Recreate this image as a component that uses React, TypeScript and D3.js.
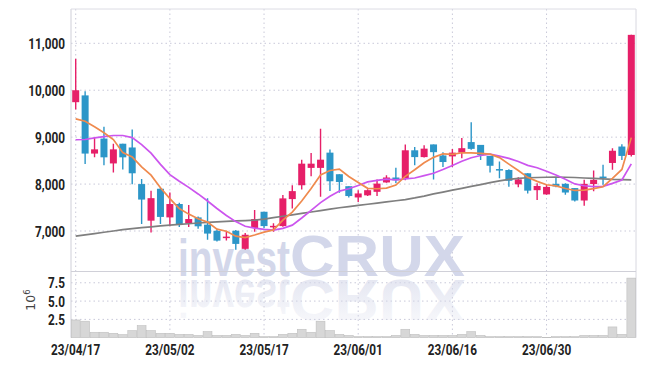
import React from 'react';
import * as d3 from 'd3';

const dates = [
  '2023-04-17','2023-04-18','2023-04-19','2023-04-20','2023-04-21','2023-04-24','2023-04-25','2023-04-26','2023-04-27','2023-04-28',
  '2023-05-02','2023-05-03','2023-05-04','2023-05-08','2023-05-09','2023-05-10','2023-05-11','2023-05-12','2023-05-15','2023-05-16',
  '2023-05-17','2023-05-18','2023-05-19','2023-05-22','2023-05-23','2023-05-24','2023-05-25','2023-05-26','2023-05-30','2023-05-31',
  '2023-06-01','2023-06-02','2023-06-05','2023-06-07','2023-06-08','2023-06-09','2023-06-12','2023-06-13','2023-06-14','2023-06-15',
  '2023-06-16','2023-06-19','2023-06-20','2023-06-21','2023-06-22','2023-06-23','2023-06-26','2023-06-27','2023-06-28','2023-06-29',
  '2023-06-30','2023-07-03','2023-07-04','2023-07-05','2023-07-06','2023-07-07','2023-07-10','2023-07-11','2023-07-12','2023-07-13',
];
const opens = [
  9745, 9890, 8650, 8970, 8440, 8860, 8780, 8000, 7220, 7900,
  7290, 7575, 7160, 7290, 7135, 7005, 6850, 7005, 6620, 7065,
  7410, 7095, 7105, 7680, 7975, 8345, 8345, 8670, 8210, 7955,
  7715, 7760, 7835, 8035, 8140, 8120, 8720, 8575, 8845, 8610,
  8590, 8670, 8895, 8835, 8600, 8320, 8300, 7995, 8230, 7870,
  7780, 8005, 8005, 7915, 7650, 8000, 8160, 8450, 8800, 8620,
];
const highs = [
  10670, 9980, 8990, 9220, 8860, 8860, 9165, 8110, 7860, 7920,
  7820, 7600, 7555, 7310, 7700, 7040, 7005, 7020, 6955, 7445,
  7410, 7165, 7765, 7975, 8520, 8660, 9180, 8735, 8210, 7955,
  7870, 7890, 8095, 8190, 8350, 8845, 8790, 8825, 8845, 8680,
  8750, 8980, 9320, 8835, 8600, 8480, 8315, 8145, 8230, 8015,
  7985, 8130, 8020, 7915, 8090, 8290, 8410, 8765, 8850, 11180,
];
const lows = [
  9590, 8430, 8570, 8400, 8245, 8310, 7995, 7150, 6970, 7150,
  7100, 7085, 7085, 7050, 6815, 6775, 6795, 6600, 6600, 6985,
  7060, 6985, 7090, 7480, 7885, 8165, 7730, 7850, 7815, 7715,
  7620, 7745, 7745, 8030, 8025, 8080, 8400, 8565, 8095, 8365,
  8365, 8550, 8730, 8515, 8245, 8125, 7945, 7930, 7800, 7660,
  7770, 7935, 7770, 7630, 7540, 7845, 7985, 8305, 8515, 8590,
];
const closes = [
  10000, 8650, 8740, 8570, 8740, 8570, 8230, 7670, 7700, 7300,
  7575, 7135, 7255, 7100, 6945, 6795, 6880, 6725, 6920, 7255,
  7105, 7110, 7695, 7850, 8435, 8435, 8520, 8060, 8045, 7745,
  7800, 7870, 8010, 8140, 8080, 8720, 8575, 8755, 8680, 8470,
  8670, 8765, 8750, 8620, 8390, 8295, 8070, 8100, 7860, 7960,
  7940, 7950, 7820, 7650, 8005, 8090, 8150, 8710, 8600, 11180,
];
const ma5 = [
  9390, 9340, 9220, 9095, 8950, 8670, 8580, 8365, 8190, 7920,
  7690, 7480, 7360, 7260, 7190, 7040, 6995, 6890, 6860, 6915,
  6977, 7023, 7230, 7403, 7639, 7905, 8195, 8290, 8320, 8161,
  8034, 7910, 7900, 7913, 7980, 8164, 8305, 8454, 8570, 8645,
  8635, 8668, 8667, 8655, 8639, 8564, 8425, 8290, 8143, 8057,
  7986, 7962, 7906, 7864, 7873, 7903, 7943, 8121, 8311, 8990,
];
const ma10 = [
  8945, 8950, 8985, 9010, 9035, 9035, 8990, 8840, 8660, 8420,
  8200, 8060, 7930, 7790, 7640, 7480, 7330, 7200, 7100, 7060,
  7035, 7020, 7055, 7125, 7277, 7441, 7605, 7739, 7851, 7900,
  7970, 8046, 8077, 8106, 8090, 8110, 8130, 8180, 8230, 8310,
  8397, 8487, 8561, 8609, 8640, 8597, 8547, 8481, 8399, 8348,
  8275, 8194, 8101, 8004, 7965, 7945, 7953, 8014, 8088, 8430,
];
const ma60 = [
  6890, 6918, 6946, 6974, 7000, 7030, 7050, 7070, 7090, 7110,
  7125, 7140, 7155, 7170, 7185, 7195, 7205, 7215, 7222, 7230,
  7255, 7285, 7315, 7345, 7375, 7405, 7435, 7465, 7495, 7520,
  7545, 7570, 7595, 7620, 7645, 7670, 7705, 7745, 7790, 7830,
  7870, 7910, 7950, 7990, 8030, 8070, 8100, 8120, 8135, 8140,
  8145, 8150, 8145, 8140, 8130, 8120, 8110, 8100, 8095, 8090,
];
const volumes = [
  2420000, 2250000, 740000, 740000, 600000, 410000, 960000, 1640000, 960000, 600000,
  600000, 450000, 450000, 300000, 820000, 300000, 300000, 450000, 300000, 600000,
  140000, 140000, 450000, 600000, 1150000, 740000, 2250000, 960000, 450000, 300000,
  140000, 140000, 140000, 140000, 300000, 1150000, 450000, 300000, 300000, 300000,
  300000, 450000, 820000, 300000, 140000, 140000, 140000, 140000, 140000, 140000,
  50000, 140000, 140000, 140000, 300000, 300000, 300000, 1470000, 450000, 8140000,
];
const priceTicks = [7000, 8000, 9000, 10000, 11000];
const volumeTicks = [2.5e6, 5e6, 7.5e6];
const dateTickIdx = [0, 10, 20, 30, 40, 50];

const W = 645, H = 366;
const L = 71, R = 636, T = 9, SEP = 271.5, VB = 337.7;
const UP = '#e61f68';
const DOWN = '#2c96c8';
const GRID = '#c9c9d9';
const FONT = "Roboto, 'DejaVu Sans', sans-serif";
const SX = 0.76;

export default function App() {
  const n = dates.length;
  const x = d3.scaleBand<number>().domain(d3.range(n)).range([L, R]).padding(0);
  const cx = (i: number) => (x(i) as number) + x.bandwidth() / 2;
  const y = d3.scaleLinear().domain([6137, 11731]).range([SEP, T]);
  const yv = d3.scaleLinear().domain([0, 9.04e6]).range([VB, SEP]);
  const fmtDate = d3.timeFormat('%y/%m/%d');
  const parse = d3.timeParse('%Y-%m-%d');
  const fmtPrice = d3.format(',');
  const fmtVol = (v: number) => d3.format('.1f')(v / 1e6);
  const line = (arr: number[]) =>
    d3.line<number>().x((_, i) => cx(i)).y((d) => y(d))(arr) as string;
  const bw = 7;
  const vbw = x.bandwidth() - 0.6;

  const label = (key: string, tx: number, ty: number, anchor: string, txt: string) => (
    <text key={key} transform={`translate(${tx},${ty}) scale(${SX},1)`} textAnchor={anchor}
      fontFamily={FONT} fontSize={15.5} fontWeight={700} fill="#222">{txt}</text>
  );

  return (
    <svg width={W} height={H} style={{ position: 'absolute', left: 0, top: 0, background: '#fff' }}>
      <defs>
        <linearGradient id="refl" x1="0" y1="0" x2="0" y2="1">
          <stop offset="0" stopColor="#d6d9ea" stopOpacity="0.1" />
          <stop offset="1" stopColor="#d6d9ea" stopOpacity="0.75" />
        </linearGradient>
        <clipPath id="priceClip"><rect x={L} y={T} width={R - L} height={SEP - T} /></clipPath>
      </defs>

      {/* grid */}
      {priceTicks.map((t) => (
        <line key={'hp' + t} x1={L} x2={R} y1={y(t)} y2={y(t)} stroke={GRID} strokeWidth={1} strokeDasharray="1.5,3" />
      ))}
      {volumeTicks.map((t) => (
        <line key={'hv' + t} x1={L} x2={R} y1={yv(t)} y2={yv(t)} stroke={GRID} strokeWidth={1} strokeDasharray="1.5,3" />
      ))}
      {dateTickIdx.map((i) => (
        <line key={'vg' + i} x1={cx(i)} x2={cx(i)} y1={T} y2={VB} stroke={GRID} strokeWidth={1} strokeDasharray="1.5,3" />
      ))}

      {/* watermark */}
      <g fontFamily="'Liberation Sans', 'DejaVu Sans', sans-serif" fontWeight="bold">
        <text x={178} y={276} fontSize={52} fill="#d3d7ea" textLength={112} lengthAdjust="spacingAndGlyphs">invest</text>
        <text x={290} y={276} fontSize={58} fill="#d3d7ea" textLength={175} lengthAdjust="spacingAndGlyphs">CRUX</text>
        <g transform={`translate(0, ${2 * 278}) scale(1,-1)`}>
          <text x={178} y={276} fontSize={52} fill="url(#refl)" textLength={112} lengthAdjust="spacingAndGlyphs">invest</text>
          <text x={290} y={276} fontSize={58} fill="url(#refl)" textLength={175} lengthAdjust="spacingAndGlyphs">CRUX</text>
        </g>
      </g>

      {/* frame */}
      <line x1={L} x2={L} y1={T} y2={VB} stroke="#cfcfd8" />
      <line x1={R} x2={R} y1={T} y2={VB} stroke="#d8d8e0" />
      <line x1={L} x2={R} y1={T} y2={T} stroke="#dcdce4" />
      <line x1={L} x2={R} y1={SEP} y2={SEP} stroke="#d0d0d8" />

      {/* volume */}
      {volumes.map((v, i) => (
        <rect key={'v' + i} x={(x(i) as number) + 0.3} y={yv(v)} width={vbw} height={VB - yv(v)}
          fill="#d7d7d7" stroke="#bfbfbf" strokeWidth={0.6} />
      ))}

      {/* candles */}
      <g clipPath="url(#priceClip)">
        {dates.map((_, i) => {
          const up = closes[i] >= opens[i];
          const c = up ? UP : DOWN;
          const top = y(Math.max(opens[i], closes[i]));
          const bot = y(Math.min(opens[i], closes[i]));
          return (
            <g key={'c' + i}>
              <line x1={cx(i)} x2={cx(i)} y1={y(highs[i])} y2={y(lows[i])} stroke={c} strokeWidth={1.4} />
              <rect x={cx(i) - bw / 2} y={top} width={bw} height={Math.max(1.5, bot - top)} fill={c} />
            </g>
          );
        })}
        <path d={line(ma60)} fill="none" stroke="#7f7f7f" strokeWidth={1.7} />
        <path d={line(ma10)} fill="none" stroke="#cc55ee" strokeWidth={1.7} />
        <path d={line(ma5)} fill="none" stroke="#ef8a4e" strokeWidth={1.7} />
      </g>

      {/* axis labels */}
      {priceTicks.map((t) => label('pl' + t, 65, y(t) + 5.5, 'end', fmtPrice(t)))}
      {volumeTicks.map((t) => label('vl' + t, 65, yv(t) + 5.5, 'end', fmtVol(t)))}
      {dateTickIdx.map((i) => label('dl' + i, cx(i), 355, 'middle', fmtDate(parse(dates[i]) as Date)))}
      <text transform={`translate(35, 300) rotate(-90)`} textAnchor="middle" fontFamily="'DejaVu Sans', sans-serif" fontSize={12.5} fill="#444">
        10<tspan dy="-5" fontSize={8.5}>6</tspan>
      </text>
    </svg>
  );
}
